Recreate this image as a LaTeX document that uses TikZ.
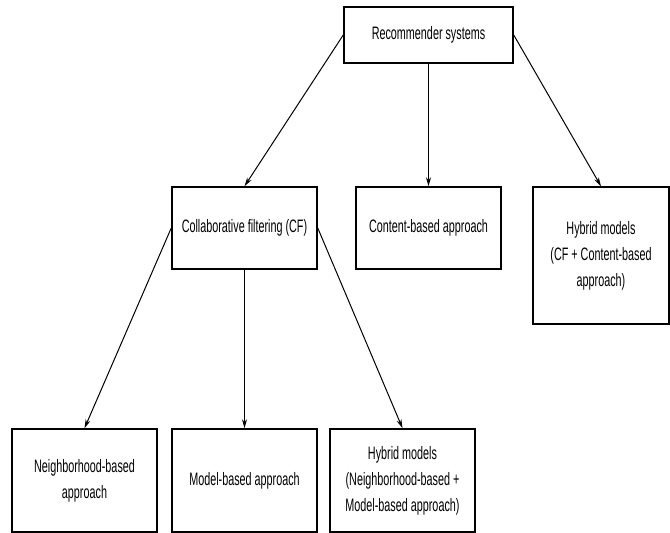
\documentclass[tikz,border=0pt]{standalone}
\usepackage{fontspec}
\setmainfont[FakeStretch=0.6]{Liberation Sans}
\usepackage{tikz}
\usetikzlibrary{arrows.meta,positioning}

\begin{document}
\begin{tikzpicture}[
  x=1pt, y=-1pt,
  font=\fontsize{18}{26}\selectfont,
  catbox/.style={draw, line width=1.5pt, align=center, inner sep=2pt, minimum width=145pt, minimum height=82pt},
  leafbox/.style={catbox, minimum height=103pt},
  arrow/.style={-{Stealth[length=9pt, width=5pt]}, line width=1pt}
]
\useasboundingbox (0,0) rectangle (670,533);

\node[catbox, minimum width=169pt, minimum height=56pt] (rec) at (428.5,35) {Recommender systems};

\node[catbox] (cf) at (244.5,228) {Collaborative filtering (CF)};
\node[catbox] (content) at (428.5,228) {Content-based approach};
\node[catbox, minimum width=136pt, minimum height=137pt] (hyb) at (601,255.5) {Hybrid models\\(CF + Content-based\\approach)};

\node[leafbox] (nb) at (84.5,480.5) {Neighborhood-based\\approach};
\node[leafbox] (mb) at (244.5,480.5) {Model-based approach};
\node[leafbox] (hm) at (402.5,480.5) {Hybrid models\\(Neighborhood-based +\\Model-based approach)};

\draw[arrow] (rec.west) -- (cf.north);
\draw[arrow] (rec.south) -- (content.north);
\draw[arrow] (rec.east) -- (hyb.north);
\draw[arrow] (cf.west) -- (nb.north);
\draw[arrow] (cf.south) -- (mb.north);
\draw[arrow] (cf.east) -- (hm.north);
\end{tikzpicture}
\end{document}
